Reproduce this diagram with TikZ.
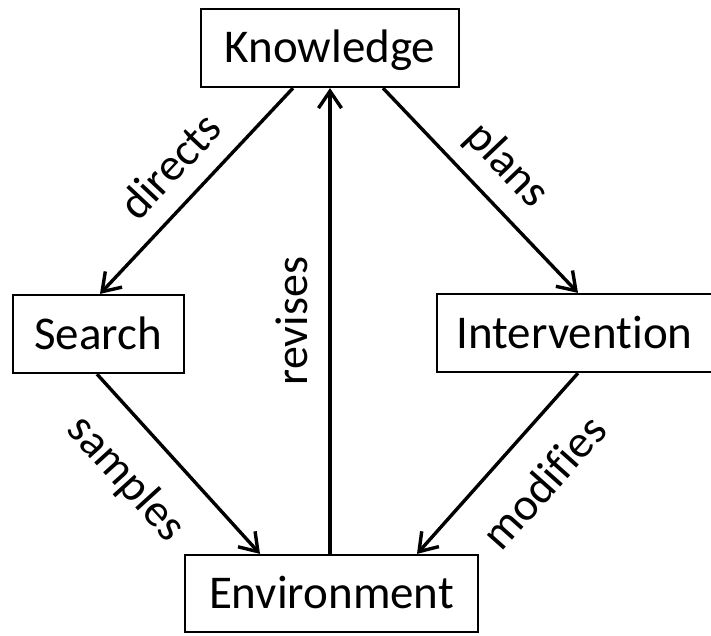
\documentclass[tikz,border=0pt]{standalone}
\usepackage{fontspec}
\setmainfont{Carlito}[Ligatures={NoCommon}]
\usetikzlibrary{arrows.meta}
\begin{document}
\begin{tikzpicture}[x=1pt,y=1pt,
  box/.style={draw, line width=2.2pt, minimum height=78pt, inner sep=0pt,
    font=\fontsize{47}{52}\selectfont, text height=30pt, text depth=0pt},
  conn/.style={line width=3.4pt, -{Straight Barb[length=17pt,width=23pt]}},
  lbl/.style={font=\fontsize{46}{50}\selectfont, inner sep=4pt, sloped}]
\useasboundingbox (0,0) rectangle (711,635);
\node[box, minimum width=258pt] (K) at (330,587) {Knowledge};
\node[box, minimum width=171pt] (S) at (98.3,301) {Search};
\node[box, minimum width=275pt] (I) at (574.5,302) {Intervention};
\node[box, minimum width=293pt, minimum height=77pt] (E) at (331.5,41.5) {Environment};
\draw[conn] ([xshift=-37pt]K.south) -- node[lbl, above=15pt] {directs} ([xshift=1.7pt]S.north);
\draw[conn] ([xshift=53pt]K.south) -- node[lbl, above=11pt] {plans} ([xshift=3.5pt]I.north);
\draw[conn] ([xshift=-1.3pt]S.south) -- node[lbl, pos=0.4, below=24pt] {samples} ([xshift=-71.5pt]E.north);
\draw[conn] ([xshift=3.5pt]I.south) -- node[lbl, pos=0.43, below=25pt] {modifies} ([xshift=85.5pt]E.north);
\draw[conn] ([xshift=-1.5pt]E.north) -- node[lbl, above=16pt] {revises} (K.south);
\end{tikzpicture}
\end{document}
